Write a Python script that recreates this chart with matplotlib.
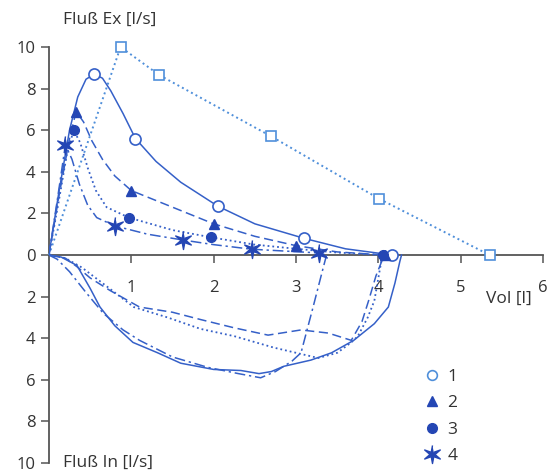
import numpy as np
import matplotlib.pyplot as plt
from matplotlib.lines import Line2D
from matplotlib.ticker import FuncFormatter

plt.rcParams['font.family'] = ['Open Sans', 'DejaVu Sans']

# ------------------------------------------------------
# Daten
# ------------------------------------------------------
# Exspiration (Fluss positiv)
ex1_vol = [0, 0.12, 0.25, 0.35, 0.45, 0.55, 0.65, 0.75, 0.9, 1.05, 1.3, 1.6, 2.05, 2.5, 3.1, 3.6, 4.17]
ex1_flow = [0, 3.0, 6.0, 7.6, 8.45, 8.7, 8.5, 7.9, 6.8, 5.6, 4.5, 3.5, 2.35, 1.5, 0.8, 0.3, 0]
ex1_mvol = [0.55, 1.05, 2.05, 3.1, 4.17]
ex1_mflow = [8.7, 5.6, 2.35, 0.8, 0]

ex2_vol = [0, 0.12, 0.25, 0.33, 0.42, 0.52, 0.65, 0.8, 1.0, 1.5, 2.0, 2.5, 3.0, 3.5, 4.08]
ex2_flow = [0, 2.8, 5.6, 6.9, 6.4, 5.5, 4.6, 3.8, 3.1, 2.3, 1.5, 0.9, 0.45, 0.15, 0]
ex2_mvol = [0.33, 1.0, 2.0, 3.0, 4.08]
ex2_mflow = [6.9, 3.1, 1.5, 0.45, 0]

ex3_vol = [0, 0.12, 0.22, 0.3, 0.38, 0.47, 0.57, 0.7, 0.97, 1.5, 1.97, 2.5, 3.0, 3.5, 4.05]
ex3_flow = [0, 2.6, 4.9, 6.0, 5.4, 4.2, 3.1, 2.3, 1.8, 1.2, 0.85, 0.5, 0.3, 0.12, 0]
ex3_mvol = [0.3, 0.97, 1.97, 4.05]
ex3_mflow = [6.0, 1.8, 0.85, 0]

ex4_vol = [0, 0.1, 0.2, 0.28, 0.37, 0.47, 0.58, 0.8, 1.2, 1.63, 2.0, 2.46, 3.28, 3.37]
ex4_flow = [0, 2.6, 5.3, 4.6, 3.4, 2.4, 1.8, 1.4, 1.0, 0.72, 0.5, 0.28, 0.1, 0]
ex4_mvol = [0.2, 0.8, 1.63, 2.46, 3.28]
ex4_mflow = [5.3, 1.4, 0.72, 0.28, 0.1]

# Sollwerte (Quadrate)
soll_vol = [0, 0.87, 1.34, 2.7, 4.01, 5.35]
soll_flow = [0, 10, 8.65, 5.7, 2.7, 0]

# Inspiration (Fluss negativ)
in1_vol = [0, 0.15, 0.34, 0.5, 0.62, 0.8, 1.02, 1.32, 1.6, 2.0, 2.33, 2.55, 2.7,
           2.85, 3.18, 3.43, 3.7, 3.95, 4.12, 4.2, 4.26, 4.28]
in1_flow = [0, -0.1, -0.5, -1.6, -2.5, -3.4, -4.2, -4.7, -5.2, -5.5, -5.55, -5.7, -5.6,
            -5.35, -5.05, -4.7, -4.1, -3.3, -2.5, -1.35, -0.3, 0]

in2_vol = [0, 0.2, 0.34, 0.5, 0.74, 1.1, 1.5, 1.84, 2.25, 2.66, 3.06, 3.39, 3.67,
           3.8, 3.88, 3.97, 4.05, 4.08]
in2_flow = [0, -0.15, -0.56, -1.1, -1.7, -2.5, -2.75, -3.1, -3.5, -3.85, -3.6, -3.75, -4.1,
            -3.2, -2.2, -1.0, -0.2, 0]

in3_vol = [0, 0.2, 0.4, 0.7, 1.03, 1.44, 1.84, 2.25, 2.73, 3.27, 3.5, 3.67, 3.75,
           3.87, 3.95, 4.03, 4.05]
in3_flow = [0, -0.15, -0.6, -1.5, -2.5, -3.0, -3.55, -3.9, -4.45, -4.95, -4.7, -4.2, -3.9,
            -3.0, -2.2, -0.4, 0]

in4_vol = [0, 0.1, 0.25, 0.45, 0.66, 0.9, 1.1, 1.5, 1.93, 2.3, 2.57, 2.75, 2.95, 3.06,
           3.2, 3.33, 3.37]
in4_flow = [0, -0.2, -0.8, -1.8, -2.8, -3.6, -4.1, -4.9, -5.4, -5.7, -5.9, -5.6, -5.1, -4.7,
            -2.6, -0.6, 0]

legende = ['1', '2', '3', '4']

# ------------------------------------------------------
# Farben / Stil
# ------------------------------------------------------
blau = '#3560c8'
blau_dunkel = '#2446b4'
blau_hell = '#4f8fda'

# schlanker sechszackiger Stern als Marker
_w = np.pi / 2 + np.arange(12) * np.pi / 6
_r = np.where(np.arange(12) % 2 == 0, 1.0, 0.28)
stern = np.column_stack([_r * np.cos(_w), _r * np.sin(_w)])

fig = plt.figure(figsize=(5.56, 4.73), dpi=100)
ax = fig.add_axes([0.088, 0.021, 0.889, 0.8796])

lw = 1.1
ax.plot(soll_vol, soll_flow, ':', color=blau_hell, lw=1.4, marker='s', ms=7,
        mfc='white', mec=blau_hell, mew=1.2, markevery=[1, 2, 3, 4, 5],
        clip_on=False, zorder=3)

ax.plot(ex1_vol, ex1_flow, '-', color=blau, lw=lw, zorder=3)
ax.plot(in1_vol, in1_flow, '-', color=blau, lw=lw, zorder=3)
ax.plot(ex2_vol, ex2_flow, '--', color=blau, lw=lw, dashes=(6, 3), zorder=3)
ax.plot(in2_vol, in2_flow, '--', color=blau, lw=lw, dashes=(6, 3), zorder=3)
ax.plot(ex3_vol, ex3_flow, ':', color=blau, lw=1.3, zorder=3)
ax.plot(in3_vol, in3_flow, ':', color=blau, lw=1.3, zorder=3)
ax.plot(ex4_vol, ex4_flow, '-.', color=blau, lw=lw, dashes=(7, 2.5, 1.5, 2.5), zorder=3)
ax.plot(in4_vol, in4_flow, '-.', color=blau, lw=lw, dashes=(7, 2.5, 1.5, 2.5), zorder=3)

ax.plot(ex1_mvol, ex1_mflow, 'o', ms=8, mfc='white', mec=blau, mew=1.2, zorder=5, clip_on=False)
ax.plot(ex2_mvol, ex2_mflow, '^', ms=7, color=blau_dunkel, zorder=5, clip_on=False)
ax.plot(ex3_mvol, ex3_mflow, 'o', ms=7, color=blau_dunkel, zorder=5, clip_on=False)
ax.plot(ex4_mvol, ex4_mflow, ls='none', marker=stern, ms=13, color=blau_dunkel, zorder=5,
        clip_on=False)

# ------------------------------------------------------
# Achsen
# ------------------------------------------------------
ax.set_xlim(0, 6)
ax.set_ylim(-10, 10)
for s in ['top', 'right']:
    ax.spines[s].set_visible(False)
ax.spines['bottom'].set_position(('data', 0))
ax.spines['left'].set_color('#555555')
ax.spines['bottom'].set_color('#555555')
ax.spines['left'].set_linewidth(1.3)
ax.spines['bottom'].set_linewidth(1.3)

ax.set_xticks([1, 2, 3, 4, 5, 6])
ax.set_yticks(range(-10, 11, 2))
ax.yaxis.set_major_formatter(FuncFormatter(lambda v, p: f"{abs(v):.0f}"))
ax.tick_params(axis='both', direction='out', length=6, width=1.1, color='#555555',
               labelsize=12, labelcolor='#333333')
ax.tick_params(axis='x', pad=12)

ax.text(0.17, 11.3, 'Fluß Ex [l/s]', fontsize=12.5, color='#333333', va='center')
ax.text(0.17, -10.0, 'Fluß In [l/s]', fontsize=12.5, color='#333333', va='center')
ax.text(5.3, -2.1, 'Vol [l]', fontsize=12.5, color='#333333', va='center')

handles = [
    Line2D([], [], ls='none', marker='o', ms=7, mfc='white', mec=blau_hell, mew=1.2),
    Line2D([], [], ls='none', marker='^', ms=7, color=blau_dunkel),
    Line2D([], [], ls='none', marker='o', ms=7, color=blau_dunkel),
    Line2D([], [], ls='none', marker=stern, ms=13, color=blau_dunkel),
]
leg = ax.legend(handles, legende, loc='upper left', bbox_to_anchor=(0.725, 0.265),
                frameon=False, fontsize=12.5, handletextpad=0.4, labelspacing=0.6,
                handlelength=1.0)
for t in leg.get_texts():
    t.set_color('#333333')

fig.savefig('out.png', dpi=100)
